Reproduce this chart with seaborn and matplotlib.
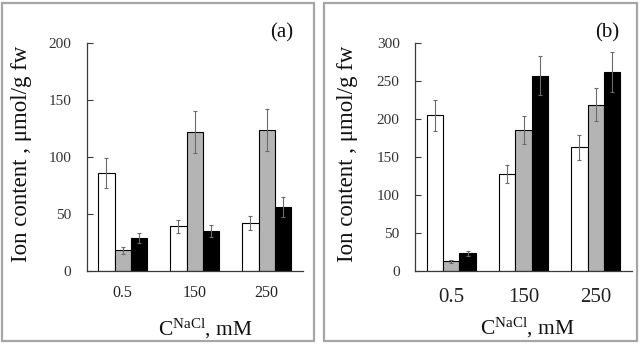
import matplotlib
matplotlib.use("Agg")
import matplotlib.pyplot as plt
import seaborn as sns
import pandas as pd
import numpy as np
from matplotlib.patches import Rectangle

# ---- data ----
concentrations = ["0.5", "150", "250"]
series = ["s1", "s2", "s3"]
a_s1 = [86, 39, 42]
a_s2 = [18, 122, 124]
a_s3 = [29, 35, 56]
a_s1_err = [13, 6, 6.5]
a_s2_err = [3, 18.5, 18.5]
a_s3_err = [4.4, 5.3, 8.8]

b_s1 = [205, 128, 163]
b_s2 = [12.5, 186, 219]
b_s3 = [23, 257, 262.5]
b_s1_err = [20.5, 12, 16.5]
b_s2_err = [2, 18.6, 22]
b_s3_err = [3, 25.6, 26.5]

a_yticks = [0, 50, 100, 150, 200]
b_yticks = [0, 50, 100, 150, 200, 250, 300]

palette = ["white", "#b4b4b4", "black"]

sns.set_theme(style="white")
plt.rcParams["font.family"] = ["Liberation Serif", "DejaVu Serif"]
plt.rcParams["mathtext.fontset"] = "custom"
plt.rcParams["mathtext.rm"] = "Liberation Serif"
plt.rcParams["mathtext.it"] = "Liberation Serif:italic"

fig = plt.figure(figsize=(6.4, 3.45), dpi=100)
W, H = 640, 345

def fx(px):
    return px / W

def fy(py):
    return 1 - py / H

# panel borders
for x0, x1 in [(2, 314), (324, 637)]:
    fig.patches.append(Rectangle((fx(x0), fy(341)), fx(x1 - x0), (341 - 3) / H,
                                 transform=fig.transFigure, fill=False,
                                 edgecolor="#a6a6a6", linewidth=1.6, zorder=0))

def make_df(s1, s2, s3):
    rows = []
    for name, vals in zip(series, [s1, s2, s3]):
        for c, v in zip(concentrations, vals):
            rows.append({"conc": c, "series": name, "value": v})
    return pd.DataFrame(rows)

def panel(rect, s1, s2, s3, errs, ymax, yticks, label, lab_xy, xtick_fs,
          xtick_pad, ylab_x, xlab_xy):
    ax = fig.add_axes(rect)
    df = make_df(s1, s2, s3)
    sns.barplot(data=df, x="conc", y="value", hue="series", order=concentrations,
                hue_order=series, palette=palette, edgecolor="black",
                linewidth=0.8, width=0.68, errorbar=None, legend=False,
                saturation=1, ax=ax)
    # error bars placed at the bar centres drawn by seaborn
    allerr = []
    for e in errs:
        allerr.extend(e)
    bars = [p for p in ax.patches if p.get_height() > 0]
    for p, e in zip(bars, allerr):
        cx = p.get_x() + p.get_width() / 2
        ax.errorbar(cx, p.get_height(), yerr=e, fmt="none", ecolor="#6b6b6b",
                    elinewidth=0.8, capsize=1.2, capthick=0.8, zorder=5)
    ax.set_xlim(-0.5, 2.5)
    ax.set_ylim(0, ymax)
    ax.set_yticks(yticks)
    ax.set_yticklabels([str(t) for t in yticks])
    for s in ["top", "right"]:
        ax.spines[s].set_visible(False)
    for s in ["left", "bottom"]:
        ax.spines[s].set_color("#3a3a3a")
        ax.spines[s].set_linewidth(0.9)
    ax.tick_params(axis="y", direction="in", length=4, width=0.8, color="#3a3a3a",
                   labelsize=11, pad=11, left=True, labelcolor="#333333")
    ax.tick_params(axis="x", length=0, labelsize=xtick_fs, pad=xtick_pad,
                   labelcolor="#222222")
    ax.set_ylabel("Ion content , \u03bcmol/g fw", fontsize=16.5, color="#111111")
    ax.yaxis.set_label_coords(ylab_x, 0.515)
    ax.set_xlabel(r"C$^{\mathrm{NaCl}}$, mM", fontsize=15.5, color="#111111")
    ax.xaxis.set_label_coords(*xlab_xy)
    ax.grid(False)
    fig.text(fx(lab_xy[0]), fy(lab_xy[1]), label, fontsize=15, ha="center",
             va="center", color="#111111")
    return ax

panel([fx(86.7), fy(270.7), fx(216), 227.4 / H], a_s1, a_s2, a_s3,
      [a_s1_err, a_s2_err, a_s3_err], 200, a_yticks, "(a)", (281.5, 33),
      11.5, 10.5, -0.255, (0.55, -0.205))
panel([fx(415), fy(270.7), fx(217), 227.4 / H], b_s1, b_s2, b_s3,
      [b_s1_err, b_s2_err, b_s3_err], 300, b_yticks, "(b)", (607.5, 33),
      15, 12.5, -0.262, (0.52, -0.2))

fig.savefig("out.png", dpi=100)
